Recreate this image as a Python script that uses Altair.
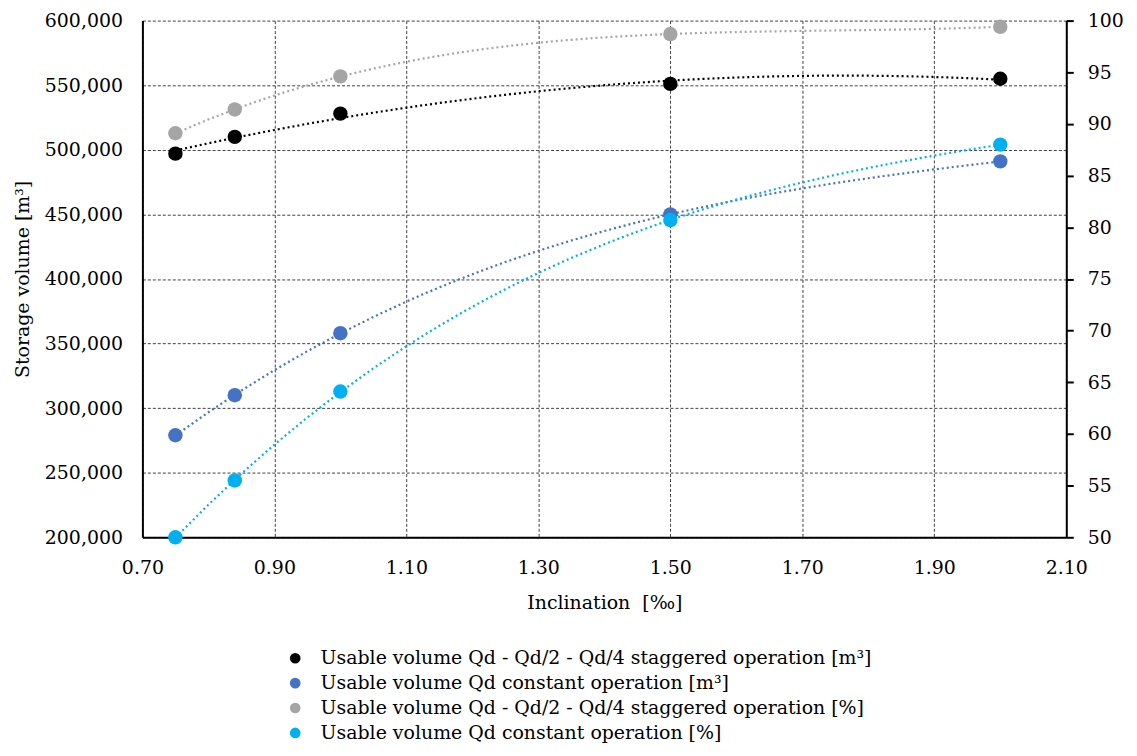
import altair as alt
import pandas as pd

inclination = [0.75, 0.84, 1.00, 1.50, 2.00]
staggered_m3 = [497000, 510000, 528000, 551000, 555000]
constant_m3 = [279000, 310000, 358000, 450000, 491000]
staggered_pct = [89.1, 91.4, 94.6, 98.7, 99.4]
constant_pct = [50.0, 55.5, 64.1, 80.7, 88.0]

s1 = "Usable volume Qd - Qd/2 - Qd/4 staggered operation [m³]"
s2 = "Usable volume Qd constant operation [m³]"
s3 = "Usable volume Qd - Qd/2 - Qd/4 staggered operation [%]"
s4 = "Usable volume Qd constant operation [%]"
series_names = [s1, s2, s3, s4]
series_colors = ["#000000", "#4472C4", "#A5A5A5", "#00B0F0"]

x_ticks = [0.70, 0.90, 1.10, 1.30, 1.50, 1.70, 1.90, 2.10]
left_ticks = [200000, 250000, 300000, 350000, 400000, 450000, 500000, 550000, 600000]
right_ticks = [50, 55, 60, 65, 70, 75, 80, 85, 90, 95, 100]

rows_m3 = []
for x, a, b in zip(inclination, staggered_m3, constant_m3):
    rows_m3.append({"x": x, "y": a, "series": s1})
    rows_m3.append({"x": x, "y": b, "series": s2})
rows_pct = []
for x, a, b in zip(inclination, staggered_pct, constant_pct):
    rows_pct.append({"x": x, "y": a, "series": s3})
    rows_pct.append({"x": x, "y": b, "series": s4})
df_m3 = pd.DataFrame(rows_m3)
df_pct = pd.DataFrame(rows_pct)

FONT = "DejaVu Serif"
FS = 19

color = alt.Color(
    "series:N",
    scale=alt.Scale(domain=series_names, range=series_colors),
    legend=alt.Legend(
        title=None, orient="none", legendX=144, legendY=631,
        labelFont=FONT, labelFontSize=FS, labelColor="#000000",
        symbolType="circle", symbolSize=115, symbolStrokeWidth=0,
        rowPadding=5, labelLimit=800, labelOffset=16,
    ),
)

xenc = alt.X(
    "x:Q",
    scale=alt.Scale(domain=[0.7, 2.1], nice=False, zero=False),
    axis=alt.Axis(
        title="Inclination\u00a0 [‰]", values=x_ticks, format=".2f",
        labelFont=FONT, labelFontSize=FS, labelColor="#000000", labelFlush=False,
        titleFont=FONT, titleFontSize=FS, titleFontWeight="normal", titleColor="#000000",
        ticks=False, domainColor="#000000", domainWidth=2,
        gridColor="#404040", gridDash=[3, 2], gridWidth=1, labelPadding=21, titlePadding=17,
    ),
)

y_left = alt.Y(
    "y:Q",
    scale=alt.Scale(domain=[200000, 600000], nice=False, zero=False),
    axis=alt.Axis(
        title="Storage volume [m³]", values=left_ticks, format=",.0f",
        labelFont=FONT, labelFontSize=FS, labelColor="#000000", labelFlush=False,
        titleFont=FONT, titleFontSize=FS, titleFontWeight="normal", titleColor="#000000",
        ticks=False, domainColor="#000000", domainWidth=2,
        gridColor="#404040", gridDash=[3, 2], gridWidth=1, labelPadding=20, titlePadding=12,
    ),
)

y_right = alt.Y(
    "y:Q",
    scale=alt.Scale(domain=[50, 100], nice=False, zero=False),
    axis=alt.Axis(
        orient="right", title=None, values=right_ticks, format="d",
        labelFont=FONT, labelFontSize=FS, labelColor="#000000", labelFlush=False,
        ticks=True, tickColor="#000000", tickSize=7, tickWidth=2,
        domainColor="#000000", domainWidth=2, grid=False, labelPadding=14,
    ),
)


def trend(df, name, order, yenc):
    return alt.Chart(df).transform_filter(
        alt.datum.series == name
    ).transform_regression(
        "x", "y", groupby=["series"], method="poly", order=order, extent=[0.75, 2.0]
    ).mark_line(strokeDash=[2, 3], strokeWidth=2.2).encode(x=xenc, y=yenc, color=color)


pts_left = alt.Chart(df_m3).mark_circle(size=210, opacity=1).encode(x=xenc, y=y_left, color=color)
pts_right = alt.Chart(df_pct).mark_circle(size=210, opacity=1).encode(x=xenc, y=y_right, color=color)

left = alt.layer(trend(df_m3, s1, 2, y_left), trend(df_m3, s2, 3, y_left), pts_left)
right = alt.layer(trend(df_pct, s3, 3, y_right), trend(df_pct, s4, 3, y_right), pts_right)

chart = alt.layer(left, right).resolve_scale(y="independent").properties(
    width=928, height=519, background="#ffffff",
    padding={"left": 5, "top": 2, "right": 5, "bottom": 5},
).configure_view(stroke=None)

chart.save("out.html", embed_options={"renderer": "svg", "actions": False})
